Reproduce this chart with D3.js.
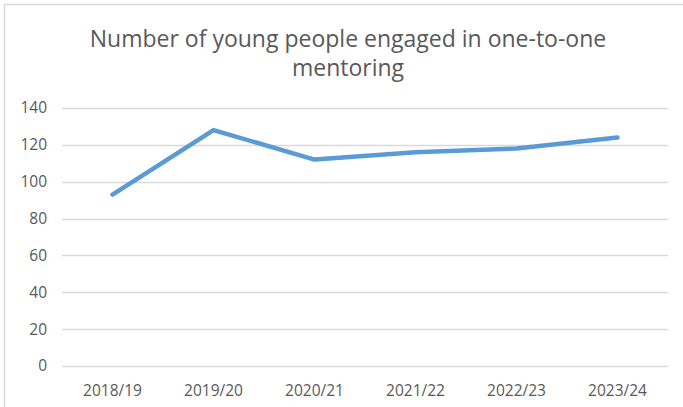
<!DOCTYPE html>
<html>
<head>
<meta charset="utf-8">
<script src="https://cdn.jsdelivr.net/npm/d3@7"></script>
<style>
  html, body { margin: 0; padding: 0; background: #fff; }
  svg { display: block; }
</style>
</head>
<body>
<svg id="chart" width="683" height="407"></svg>
<script>
// Academic years and number of young people in one-to-one mentoring
const years = ["2018/19", "2019/20", "2020/21", "2021/22", "2022/23", "2023/24"];
const mentored = [93, 128, 112, 116, 118, 124];
const yTicks = [0, 20, 40, 60, 80, 100, 120, 140];
const titleLines = ["Number of young people engaged in one-to-one", "mentoring"];

const W = 683, H = 407;
const margin = { top: 108, right: 15, bottom: 41, left: 62 };
const svg = d3.select("#chart");
const font = "'Open Sans', 'Liberation Sans', sans-serif";
const textGray = "#595959";
const gridGray = "#d9d9d9";

// chart frame
svg.append("rect")
  .attr("x", 4.5).attr("y", 4.5)
  .attr("width", W + 10).attr("height", H + 10)
  .attr("fill", "#fff")
  .attr("stroke", gridGray).attr("stroke-width", 1.5);

const x = d3.scaleBand().domain(years).range([margin.left, W - margin.right]);
const y = d3.scaleLinear().domain([0, 140]).range([H - margin.bottom, margin.top]);

// horizontal gridlines
svg.append("g")
  .selectAll("line")
  .data(yTicks)
  .join("line")
  .attr("x1", margin.left).attr("x2", W - margin.right)
  .attr("y1", d => Math.round(y(d)) + 0.5).attr("y2", d => Math.round(y(d)) + 0.5)
  .attr("stroke", gridGray).attr("stroke-width", 1.3);

// y axis labels
const yAxis = d3.axisLeft(y).tickValues(yTicks).tickSize(0).tickPadding(0);
const gy = svg.append("g").attr("transform", `translate(${margin.left - 15},0)`).call(yAxis);
gy.select(".domain").remove();
gy.selectAll("text")
  .attr("fill", textGray).attr("font-family", font).attr("font-size", 15.5);

// x axis labels
const xAxis = d3.axisBottom(x).tickSize(0).tickPadding(0);
const gx = svg.append("g").attr("transform", `translate(0,${H - margin.bottom + 19})`).call(xAxis);
gx.select(".domain").remove();
gx.selectAll("text")
  .attr("fill", textGray).attr("font-family", font).attr("font-size", 15.5);

// series line
const line = d3.line()
  .x((d, i) => x(years[i]) + x.bandwidth() / 2)
  .y(d => y(d));
svg.append("path")
  .datum(mentored)
  .attr("d", line)
  .attr("fill", "none")
  .attr("stroke", "#5b9bd5")
  .attr("stroke-width", 4.5)
  .attr("stroke-linejoin", "round")
  .attr("stroke-linecap", "round");

// title
svg.append("text")
  .attr("text-anchor", "middle")
  .attr("font-family", font)
  .attr("font-size", 23)
  .attr("fill", textGray)
  .selectAll("tspan")
  .data(titleLines)
  .join("tspan")
  .attr("x", 348)
  .attr("y", (d, i) => 47 + i * 29)
  .text(d => d);
</script>
</body>
</html>
